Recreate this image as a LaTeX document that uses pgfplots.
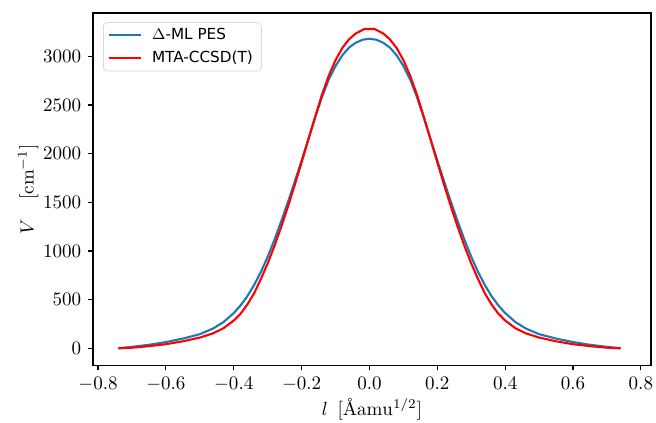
\documentclass[border=0pt]{standalone}
\usepackage{fontspec}
\usepackage{pgfplots}
\pgfplotsset{compat=1.18}
\newfontfamily\dejavu{DejaVu Sans}
\definecolor{mplblue}{HTML}{1F77B4}
\definecolor{mplred}{HTML}{FF0000}

\begin{document}
\begin{tikzpicture}
\begin{axis}[
  scale only axis,
  width=293pt, height=185pt,
  xmin=-0.815, xmax=0.83,
  ymin=-175, ymax=3445,
  xtick={-0.8,-0.6,-0.4,-0.2,0,0.2,0.4,0.6,0.8},
  ytick={0,500,1000,1500,2000,2500,3000},
  xticklabel style={/pgf/number format/fixed,/pgf/number format/fixed zerofill,/pgf/number format/precision=1},
  yticklabel style={/pgf/number format/1000 sep={}},
  tick align=outside, tick pos=left,
  major tick length=2.6pt,
  axis line style={line width=0.6pt},
  every tick/.style={black, line width=0.6pt},
  xlabel={$l\ \,[\mbox{\AA}\mathrm{amu}^{1/2}]$},
  ylabel={$V\quad[\mathrm{cm}^{-1}]$},
  xlabel style={at={(axis description cs:0.5,-0.124)}, anchor=center},
  ylabel style={at={(axis description cs:-0.116,0.5)}, anchor=center},
  legend cell align=left,
  legend style={at={(0.018,0.974)}, anchor=north west, draw=black!15, rounded corners=2pt,
    font=\dejavu\fontsize{8}{10}\selectfont, inner xsep=2.5pt, inner ysep=1pt, row sep=0.5pt},
  legend image code/.code={\draw[#1, line width=1pt] (0pt,0pt) -- (17pt,0pt); \path (20pt,0pt);},
]
\addplot[mplblue, line width=1.1pt] coordinates {
(-0.74,0)(-0.70,15)(-0.65,36)(-0.60,64)(-0.55,100)(-0.50,145)(-0.46,205)(-0.43,270)
(-0.40,362)(-0.38,440)(-0.36,535)(-0.34,650)(-0.32,785)(-0.30,940)(-0.28,1115)
(-0.26,1305)(-0.24,1505)(-0.22,1715)(-0.20,1930)(-0.18,2150)(-0.16,2370)
(-0.14,2580)(-0.12,2760)(-0.10,2900)(-0.08,3010)(-0.06,3090)(-0.04,3140)
(-0.02,3170)(0.00,3180)
(0.02,3170)(0.04,3140)(0.06,3090)(0.08,3010)(0.10,2900)(0.12,2760)(0.14,2580)
(0.16,2370)(0.18,2150)(0.20,1930)(0.22,1715)(0.24,1505)(0.26,1305)(0.28,1115)
(0.30,940)(0.32,785)(0.34,650)(0.36,535)(0.38,440)(0.40,362)(0.43,270)
(0.46,205)(0.50,145)(0.55,100)(0.60,64)(0.65,36)(0.70,15)(0.74,0)
};
\addlegendentry{$\Delta$-ML PES}
\addplot[mplred, line width=1.1pt] coordinates {
(-0.74,0)(-0.70,6)(-0.65,22)(-0.60,42)(-0.55,72)(-0.50,110)(-0.46,155)(-0.43,207)
(-0.40,285)(-0.38,355)(-0.36,450)(-0.34,565)(-0.32,712)(-0.30,872)(-0.28,1052)
(-0.26,1248)(-0.24,1458)(-0.22,1680)(-0.20,1910)(-0.18,2145)(-0.16,2380)
(-0.14,2605)(-0.12,2800)(-0.10,2960)(-0.08,3085)(-0.06,3175)(-0.04,3235)
(-0.015,3280)(0.015,3280)
(0.04,3235)(0.06,3175)(0.08,3085)(0.10,2960)(0.12,2800)(0.14,2605)
(0.16,2380)(0.18,2145)(0.20,1910)(0.22,1680)(0.24,1458)(0.26,1248)(0.28,1052)
(0.30,872)(0.32,712)(0.34,565)(0.36,450)(0.38,355)(0.40,285)(0.43,207)
(0.46,155)(0.50,110)(0.55,72)(0.60,42)(0.65,22)(0.70,6)(0.74,0)
};
\addlegendentry{MTA-CCSD(T)}
\end{axis}
\pgfresetboundingbox
\path ([shift={(-48.8pt,-29.9pt)}]current axis.south west) rectangle
      ([shift={(2.6pt,6.8pt)}]current axis.north east);
\end{tikzpicture}
\end{document}
